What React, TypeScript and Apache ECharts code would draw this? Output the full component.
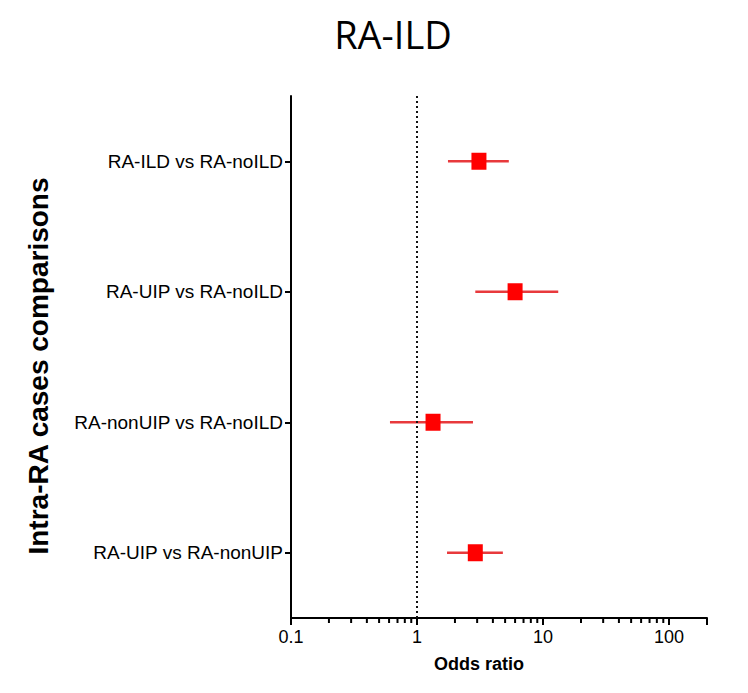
import React, { useEffect, useRef } from "react";
import * as echarts from "echarts";

const categories = [
  "RA-ILD vs RA-noILD",
  "RA-UIP vs RA-noILD",
  "RA-nonUIP vs RA-noILD",
  "RA-UIP vs RA-nonUIP",
];
const oddsRatio = [3.1, 6.0, 1.34, 2.9];
const ciLow = [1.76, 2.9, 0.61, 1.73];
const ciHigh = [5.35, 13.2, 2.78, 4.8];
const minorTickValues = [
  0.2, 0.3, 0.4, 0.5, 0.6, 0.7, 0.8, 0.9,
  2, 3, 4, 5, 6, 7, 8, 9,
  20, 30, 40, 50, 60, 70, 80, 90,
];
const referenceLine = 1;
const xMin = 0.1;
const xMax = 200;

export default function App() {
  const ref = useRef<HTMLDivElement>(null);
  useEffect(() => {
    if (!ref.current) return;
    const chart = echarts.init(ref.current, null, { renderer: "svg" });
    const font = "'Liberation Sans', Arial, sans-serif";
    chart.setOption({
      animation: false,
      backgroundColor: "#ffffff",
      title: {
        text: "RA-ILD",
        left: 380,
        top: 2,
        textAlign: "center",
        textStyle: {
          fontFamily: "'Open Sans', sans-serif",
          fontSize: 38,
          fontWeight: "normal",
          color: "#000",
        },
      },
      grid: { left: 283, right: 41, top: 88, bottom: 75, containLabel: false },
      graphic: [
        {
          type: "text",
          x: 471,
          y: 647,
          style: {
            text: "Odds ratio",
            fontFamily: font,
            fontSize: 18,
            fontWeight: "bold",
            fill: "#000",
            textAlign: "center",
          },
        },
        {
          type: "text",
          x: 30,
          y: 358,
          rotation: Math.PI / 2,
          style: {
            text: "Intra-RA cases comparisons",
            fontFamily: font,
            fontSize: 28,
            fontWeight: "bold",
            fill: "#000",
            textAlign: "center",
            textVerticalAlign: "middle",
          },
        },
      ],
      xAxis: {
        type: "log",
        logBase: 10,
        min: xMin,
        max: xMax,
        axisLine: { show: true, lineStyle: { color: "#000", width: 2 } },
        axisTick: { show: true, length: 7, lineStyle: { color: "#000", width: 2 } },
        axisLabel: {
          color: "#000",
          fontSize: 18,
          fontFamily: font,
          margin: 10,
          formatter: (v: number) => {
            const l = Math.log10(v);
            if (Math.abs(l - Math.round(l)) > 1e-6) return "";
            return String(+v.toPrecision(3));
          },
        },
        splitLine: { show: false },
      },
      yAxis: {
        type: "category",
        data: categories,
        inverse: true,
        axisLine: { show: true, lineStyle: { color: "#000", width: 2 } },
        axisTick: { show: true, alignWithLabel: true, length: 6, lineStyle: { color: "#000", width: 2 } },
        axisLabel: { color: "#000", fontSize: 19, fontFamily: font, margin: 8 },
        splitLine: { show: false },
      },
      series: [
        {
          type: "custom",
          name: "minorTicks",
          clip: false,
          silent: true,
          encode: { x: 0, y: 1 },
          data: minorTickValues.map((v) => [v, 0]),
          renderItem: (params: any, api: any) => {
            const x = api.coord([api.value(0), 0])[0];
            const yb = params.coordSys.y + params.coordSys.height;
            return {
              type: "line",
              shape: { x1: x, y1: yb, x2: x, y2: yb + 5 },
              style: { stroke: "#000", lineWidth: 2 },
            };
          },
          z: 1,
        },
        {
          type: "custom",
          name: "CI",
          clip: false,
          encode: { x: [0, 1], y: 2 },
          data: categories.map((c, i) => [ciLow[i], ciHigh[i], i]),
          renderItem: (params: any, api: any) => {
            const p1 = api.coord([api.value(0), api.value(2)]);
            const p2 = api.coord([api.value(1), api.value(2)]);
            return {
              type: "line",
              shape: { x1: p1[0], y1: p1[1], x2: p2[0], y2: p2[1] },
              style: { stroke: "#e8393c", lineWidth: 2.5 },
            };
          },
          z: 2,
        },
        {
          type: "scatter",
          name: "OR",
          symbol: "rect",
          symbolSize: [15, 17],
          itemStyle: { color: "#ff0000", opacity: 1 },
          data: categories.map((c, i) => [oddsRatio[i], c]),
          z: 3,
          markLine: {
            silent: true,
            symbol: "none",
            label: { show: false },
            lineStyle: { color: "#111", type: [2, 3], width: 2, opacity: 1 },
            data: [{ xAxis: referenceLine }],
          },
        },
      ],
    });
    return () => chart.dispose();
  }, []);
  return <div ref={ref} style={{ width: 740, height: 685 }} />;
}
